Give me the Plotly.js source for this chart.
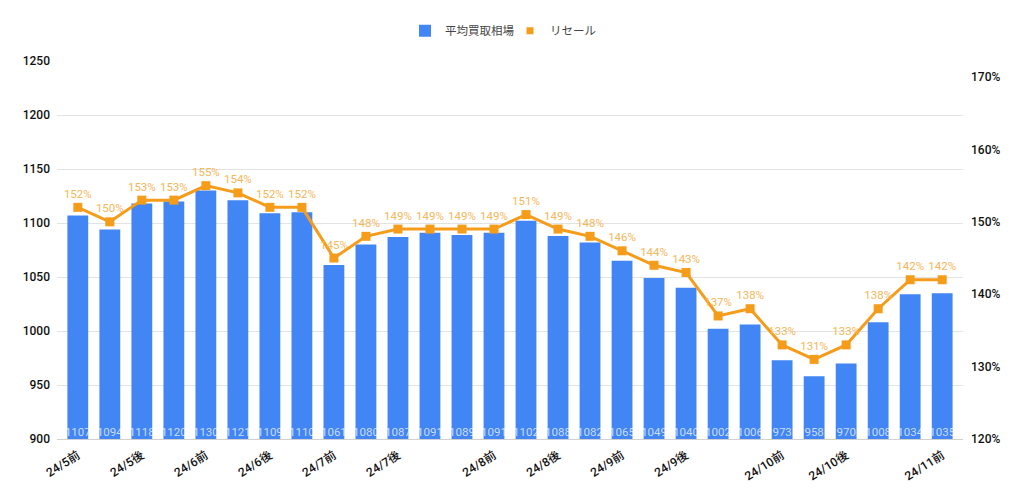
<!DOCTYPE html>
<html>
<head>
<meta charset="utf-8">
<script src="https://cdn.plot.ly/plotly-3.0.1.min.js"></script>
<style>html,body{margin:0;padding:0;background:#fff}#chart{width:1024px;height:496px}</style>
</head>
<body>
<div id="chart"></div>
<script>
// Data
const barIndex = [0,1,2,3,4,5,6,7,8,9,10,11,12,13,14,15,16,17,18,19,20,21,22,23,24,25,26,27];
const avgPrice = [1107,1094,1118,1120,1130,1121,1109,1110,1061,1080,1087,1091,1089,1091,1102,1088,1082,1065,1049,1040,1002,1006,973,958,970,1008,1034,1035];
const resale = [1.52,1.50,1.53,1.53,1.55,1.54,1.52,1.52,1.45,1.48,1.49,1.49,1.49,1.49,1.51,1.49,1.48,1.46,1.44,1.43,1.37,1.38,1.33,1.31,1.33,1.38,1.42,1.42];
const tickPositions = [0,2,4,6,8,10,13,15,17,19,22,24,27];
const tickLabels = ['24/5前','24/5後','24/6前','24/6後','24/7前','24/7後','24/8前','24/8後','24/9前','24/9後','24/10前','24/10後','24/11前'];
const leftTicks = [900,950,1000,1050,1100,1150,1200,1250];
const rightTicks = [1.2,1.3,1.4,1.5,1.6,1.7];
const leftMin = 900, leftMax = 1250;

const font = 'Roboto, "Noto Sans CJK JP", sans-serif';

const traces = [
  {
    type: 'bar', x: barIndex, y: avgPrice, name: '平均買取相場',
    marker: {color: '#4285F4'}, width: 0.65,
    hoverinfo: 'y', showlegend: true
  },
  {
    // value labels drawn at the base of each bar
    type: 'scatter', mode: 'text', x: barIndex, y: avgPrice.map(() => leftMin),
    text: avgPrice.map(String), textposition: 'top center', cliponaxis: false,
    textfont: {family: font, size: 11.5, color: 'rgba(255,255,255,0.72)'},
    showlegend: false, hoverinfo: 'skip'
  },
  {
    type: 'scatter', mode: 'lines+markers+text', x: barIndex, y: resale, yaxis: 'y2',
    name: 'リセール', showlegend: false, cliponaxis: false,
    line: {color: '#F59C1A', width: 3},
    marker: {color: '#F59C1A', symbol: 'square', size: 9},
    text: resale.map(v => Math.round(v*100) + '%'), textposition: 'top center',
    textfont: {family: font, size: 11.5, color: '#F5B75A'}
  },
  {
    type: 'scatter', mode: 'markers', x: [null], y: [null], yaxis: 'y2',
    name: 'リセール', marker: {color: '#F59C1A', symbol: 'square', size: 7}, showlegend: true
  }
];

const layout = {
  width: 1024, height: 496,
  margin: {l: 57, r: 61, t: 61, b: 57},
  paper_bgcolor: '#fff', plot_bgcolor: '#fff',
  font: {family: font, size: 12, color: '#222'},
  showlegend: true,
  legend: {orientation: 'h', x: 0.5, xanchor: 'center', y: 1.08, yanchor: 'middle',
           font: {family: font, size: 11.5, color: '#444'}, itemwidth: 30, traceorder: 'normal',
           entrywidth: 60},
  xaxis: {
    range: [-0.65, 27.65], tickmode: 'array', tickvals: tickPositions, ticktext: tickLabels,
    tickangle: -32, tickfont: {family: font, size: 12, color: '#111', weight: 500},
    showgrid: false, zeroline: false, showline: true, linecolor: '#d0d0d0', ticks: '',
    ticklabelstandoff: 4
  },
  yaxis: {
    range: [leftMin, leftMax], tickmode: 'array', tickvals: leftTicks,
    tickfont: {family: font, size: 12, color: '#111', weight: 500},
    gridcolor: '#e3e3e3', zeroline: false, showline: false, ticks: '', ticklabelstandoff: 6
  },
  yaxis2: {
    overlaying: 'y', side: 'right', range: [1.2, 1.7222], tickmode: 'array', tickvals: rightTicks,
    tickformat: '.0%', tickfont: {family: font, size: 12, color: '#111', weight: 500},
    showgrid: false, zeroline: false, showline: false, ticks: '', ticklabelstandoff: 7
  }
};

Plotly.newPlot('chart', traces, layout, {displayModeBar: false, staticPlot: true});
</script>
</body>
</html>
